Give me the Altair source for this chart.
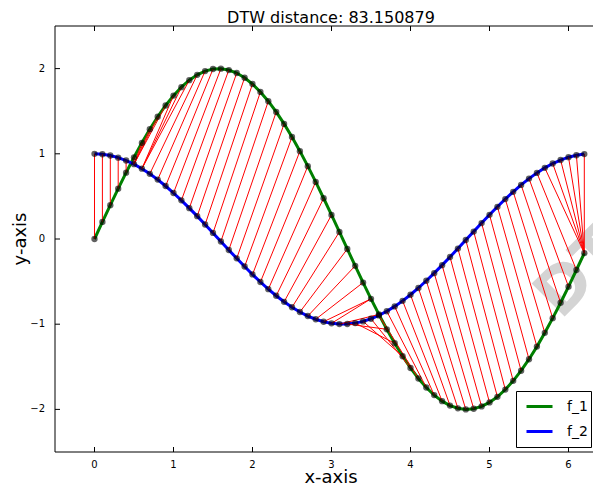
import altair as alt
import pandas as pd

# ---- data ----
x_vals = [0.0, 0.1, 0.2, 0.3, 0.4, 0.5, 0.6, 0.7, 0.8, 0.9,
          1.0, 1.1, 1.2, 1.3, 1.4, 1.5, 1.6, 1.7, 1.8, 1.9,
          2.0, 2.1, 2.2, 2.3, 2.4, 2.5, 2.6, 2.7, 2.8, 2.9,
          3.0, 3.1, 3.2, 3.3, 3.4, 3.5, 3.6, 3.7, 3.8, 3.9,
          4.0, 4.1, 4.2, 4.3, 4.4, 4.5, 4.6, 4.7, 4.8, 4.9,
          5.0, 5.1, 5.2, 5.3, 5.4, 5.5, 5.6, 5.7, 5.8, 5.9,
          6.0, 6.1, 6.2]
f1_vals = [0.0, 0.2, 0.397, 0.591, 0.779, 0.959, 1.129, 1.288, 1.435, 1.567,
           1.683, 1.782, 1.864, 1.927, 1.971, 1.995, 1.999, 1.983, 1.948, 1.893,
           1.819, 1.726, 1.617, 1.491, 1.351, 1.197, 1.031, 0.855, 0.67, 0.478,
           0.282, 0.083, -0.117, -0.315, -0.511, -0.702, -0.885, -1.06, -1.224, -1.376,
           -1.514, -1.637, -1.743, -1.832, -1.903, -1.955, -1.987, -2.0, -1.992, -1.965,
           -1.918, -1.852, -1.767, -1.665, -1.546, -1.411, -1.263, -1.101, -0.929, -0.748,
           -0.559, -0.364, -0.166]
f2_vals = [1.0, 0.995, 0.98, 0.955, 0.921, 0.878, 0.825, 0.765, 0.697, 0.622,
           0.54, 0.454, 0.362, 0.268, 0.17, 0.071, -0.029, -0.129, -0.227, -0.323,
           -0.416, -0.505, -0.589, -0.666, -0.737, -0.801, -0.857, -0.904, -0.942, -0.971,
           -0.99, -0.999, -0.998, -0.987, -0.967, -0.936, -0.897, -0.848, -0.791, -0.726,
           -0.654, -0.575, -0.49, -0.401, -0.307, -0.211, -0.112, -0.012, 0.087, 0.187,
           0.284, 0.378, 0.469, 0.554, 0.635, 0.709, 0.776, 0.835, 0.886, 0.927,
           0.96, 0.983, 0.997]
# warping path: index into f_1 (path_i) and f_2 (path_j)
path_i = [0, 1, 2, 3, 4, 5, 6, 7, 8, 9, 10, 11, 12, 13, 14, 15, 16, 17, 18, 19,
          20, 21, 22, 23, 24, 25, 26, 27, 28, 29, 30, 31, 32, 33, 34, 35, 35, 36, 37, 38,
          39, 40, 41, 42, 43, 44, 45, 46, 47, 48, 49, 50, 51, 52, 53, 54, 55, 56, 57, 58,
          59, 60, 61, 62, 62, 62, 62, 62, 62]
path_j = [0, 1, 2, 3, 4, 5, 5, 5, 5, 5, 6, 6, 6, 7, 8, 9, 10, 11, 12, 13,
          14, 15, 16, 17, 18, 19, 20, 21, 22, 23, 24, 25, 26, 27, 28, 29, 30, 31, 32, 33,
          34, 35, 36, 37, 38, 39, 40, 41, 42, 43, 44, 45, 46, 47, 48, 49, 50, 51, 52, 53,
          54, 55, 56, 57, 58, 59, 60, 61, 62]
series_names = ["f_1", "f_2"]
series_colors = ["#008000", "#0000ff"]
x_ticks = [0, 1, 2, 3, 4, 5, 6]
x_tick_labels = ["0", "1", "2", "3", "4", "5", "6"]
y_ticks = [-2, -1, 0, 1, 2]
y_tick_labels = ["\u22122", "\u22121", "0", "1", "2"]
x_domain = [-0.5, 6.31]
y_domain = [-2.5, 2.5]
title_text = "DTW distance: 83.150879"
x_title = "x-axis"
y_title = "y-axis"
wm_text = ["DTW"]
wm_x = [5.9]
wm_y = [-0.96]

# ---- tables ----
n = len(x_vals)
curves = pd.DataFrame({
    "x": x_vals + x_vals,
    "y": f1_vals + f2_vals,
    "series": [series_names[0]] * n + [series_names[1]] * n,
})
links = pd.DataFrame({
    "x1": [x_vals[i] for i in path_i],
    "y1": [f1_vals[i] for i in path_i],
    "x2": [x_vals[j] for j in path_j],
    "y2": [f2_vals[j] for j in path_j],
})
wm = pd.DataFrame({"x": wm_x, "y": wm_y, "t": wm_text})
xt = pd.DataFrame({"v": x_ticks, "lab": x_tick_labels})
yt = pd.DataFrame({"v": y_ticks, "lab": y_tick_labels})
one = pd.DataFrame({"k": [0]})

W, H = 538, 426
TICK = 5
FONT = "DejaVu Sans"
xs = alt.Scale(domain=x_domain, nice=False, zero=False)
ys = alt.Scale(domain=y_domain, nice=False, zero=False)

wm_layer = alt.Chart(wm).mark_text(
    font=FONT, fontSize=64, fontWeight="bold", angle=315, align="left",
    baseline="alphabetic", color="#d4d4d4"
).encode(
    x=alt.X("x:Q", scale=xs, axis=None),
    y=alt.Y("y:Q", scale=ys, axis=None),
    text="t:N",
)

lines_layer = alt.Chart(curves).mark_line(strokeWidth=3).encode(
    x=alt.X("x:Q", scale=xs, axis=None),
    y=alt.Y("y:Q", scale=ys, axis=None),
    color=alt.Color("series:N",
                    scale=alt.Scale(domain=series_names, range=series_colors),
                    legend=alt.Legend(orient="none", legendX=461, legendY=365, title=None,
                                      symbolType="stroke", symbolSize=676, symbolStrokeWidth=3,
                                      labelFont=FONT, labelFontSize=14, labelColor="black",
                                      labelOffset=13, padding=3, symbolOffset=6, clipHeight=25,
                                      rowPadding=0, fillColor="white", strokeColor="black",
                                      cornerRadius=0)),
)

links_layer = alt.Chart(links).mark_rule(color="red", strokeWidth=1).encode(
    x=alt.X("x1:Q", scale=xs, axis=None),
    y=alt.Y("y1:Q", scale=ys, axis=None),
    x2="x2:Q",
    y2="y2:Q",
)

points_layer = alt.Chart(curves).mark_circle(color="black", opacity=0.62, size=40).encode(
    x=alt.X("x:Q", scale=xs, axis=None),
    y=alt.Y("y:Q", scale=ys, axis=None),
)

# frame (left, bottom, top; the right edge lies outside the picture) and inward ticks
frame_top = alt.Chart(one).mark_rule(color="black", strokeWidth=1).encode(
    x=alt.value(0), x2=alt.value(W), y=alt.value(0))
frame_bottom = alt.Chart(one).mark_rule(color="black", strokeWidth=1).encode(
    x=alt.value(0), x2=alt.value(W), y=alt.value(H))
frame_left = alt.Chart(one).mark_rule(color="black", strokeWidth=1).encode(
    x=alt.value(0), y=alt.value(0), y2=alt.value(H))
xtick_bottom = alt.Chart(xt).mark_rule(color="black", strokeWidth=1).encode(
    x=alt.X("v:Q", scale=xs, axis=None), y=alt.value(H), y2=alt.value(H - TICK))
xtick_top = alt.Chart(xt).mark_rule(color="black", strokeWidth=1).encode(
    x=alt.X("v:Q", scale=xs, axis=None), y=alt.value(0), y2=alt.value(TICK))
ytick_left = alt.Chart(yt).mark_rule(color="black", strokeWidth=1).encode(
    y=alt.Y("v:Q", scale=ys, axis=None), x=alt.value(0), x2=alt.value(TICK))

# tick labels and titles
xlab = alt.Chart(xt).mark_text(font=FONT, fontSize=10, color="black", align="center",
                               baseline="top").encode(
    x=alt.X("v:Q", scale=xs, axis=None), y=alt.value(H + 8), text="lab:N")
ylab = alt.Chart(yt).mark_text(font=FONT, fontSize=10, color="black", align="right",
                               baseline="middle").encode(
    y=alt.Y("v:Q", scale=ys, axis=None), x=alt.value(-10), text="lab:N")
xtitle = alt.Chart(one).mark_text(font=FONT, fontSize=18, color="black", align="center",
                                  baseline="alphabetic", text=x_title).encode(
    x=alt.value(276), y=alt.value(H + 31))
ytitle = alt.Chart(one).mark_text(font=FONT, fontSize=18, color="black", align="center",
                                  baseline="alphabetic", angle=270, text=y_title).encode(
    x=alt.value(-29), y=alt.value(H / 2))
ctitle = alt.Chart(one).mark_text(font=FONT, fontSize=16, color="black", align="center",
                                  baseline="alphabetic", text=title_text).encode(
    x=alt.value(276), y=alt.value(-3))

chart = alt.layer(
    wm_layer, lines_layer, links_layer, points_layer,
    frame_top, frame_bottom, frame_left, xtick_bottom, xtick_top, ytick_left,
    xlab, ylab, xtitle, ytitle, ctitle
).properties(
    width=W, height=H,
    padding={"left": 47, "top": 18, "right": 0, "bottom": 33},
    autosize=alt.AutoSizeParams(type="none"),
).configure_view(stroke=None)

chart.save("out.html", embed_options={"renderer": "svg", "actions": False})
